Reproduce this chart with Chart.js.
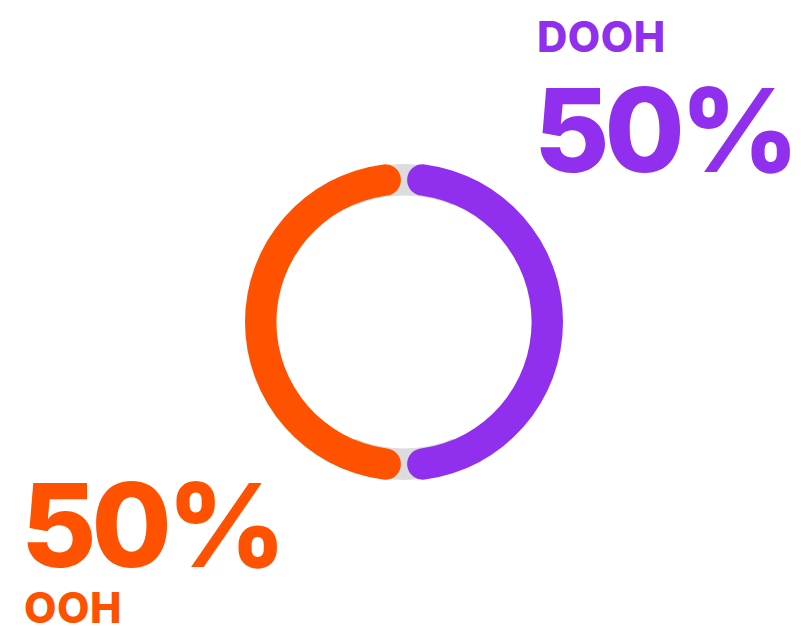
<!DOCTYPE html>
<html>
<head>
<meta charset="utf-8">
<script src="https://cdn.jsdelivr.net/npm/chart.js@4"></script>
<style>
  html, body { margin: 0; padding: 0; background: #fff; }
  body { width: 801px; height: 626px; position: relative; overflow: hidden; font-family: 'Inter', 'Liberation Sans', sans-serif; }
  .lbl { position: absolute; font-weight: 800; line-height: 1; white-space: nowrap; }
  .name { font-size: 42px; letter-spacing: 0.5px; }
  .pct { font-size: 116px; letter-spacing: -5px; }
  #wrap { position: absolute; }
</style>
</head>
<body>
<div class="lbl name" id="n0" style="left:537px;top:16px;color:#9030EE">DOOH</div>
<div class="lbl pct" id="p0" style="left:534px;top:72px;color:#9030EE"></div>
<div class="lbl pct" id="p1" style="left:21px;top:467px;color:#FF5200"></div>
<div class="lbl name" id="n1" style="left:24px;top:587px;color:#FF5200">OOH</div>
<div id="wrap"><canvas id="chart-donut"></canvas></div>
<script>
'use strict';

const labels = ['DOOH', 'OOH'];
const values = [50, 50];
const colors = ['#9030EE', '#FF5200'];
const trackColor = '#DCDCDC';

const spacing = 4;
const size = 318;
const cx = 404, cy = 322;

const wrap = document.getElementById('wrap');
wrap.style.left = (cx - size / 2) + 'px';
wrap.style.top = (cy - size / 2) + 'px';
wrap.style.width = size + 'px';
wrap.style.height = size + 'px';

document.getElementById('p0').textContent = values[0] + '%';
document.getElementById('p1').textContent = values[1] + '%';

// grey track, only shows through the gaps between the arcs
const trackPlugin = {
  id: 'track',
  afterDatasetsDraw(chart) {
    const arc = chart.getDatasetMeta(0).data[0];
    if (!arc) return;
    const {x, y, innerRadius, outerRadius} = arc.getProps(['x', 'y', 'innerRadius', 'outerRadius'], true);
    const s = spacing / 4;
    const ctx = chart.ctx;
    const w = 0.4;
    ctx.save();
    ctx.globalCompositeOperation = 'destination-over';
    ctx.fillStyle = trackColor;
    [-Math.PI / 2, Math.PI / 2].forEach(a => {
      ctx.beginPath();
      ctx.arc(x, y, outerRadius + s, a - w, a + w);
      ctx.arc(x, y, innerRadius + s, a + w, a - w, true);
      ctx.closePath();
      ctx.fill();
    });
    ctx.restore();
  }
};

new Chart(document.getElementById('chart-donut'), {
  type: 'doughnut',
  data: {labels, datasets: [{data: values, backgroundColor: colors, borderWidth: 0, borderRadius: 16, spacing}]},
  options: {
    cutout: '80%',
    responsive: true,
    maintainAspectRatio: false,
    animation: false,
    layout: {padding: 0},
    plugins: {legend: {display: false}, tooltip: {enabled: false}}
  },
  plugins: [trackPlugin]
});
</script>
</body>
</html>
